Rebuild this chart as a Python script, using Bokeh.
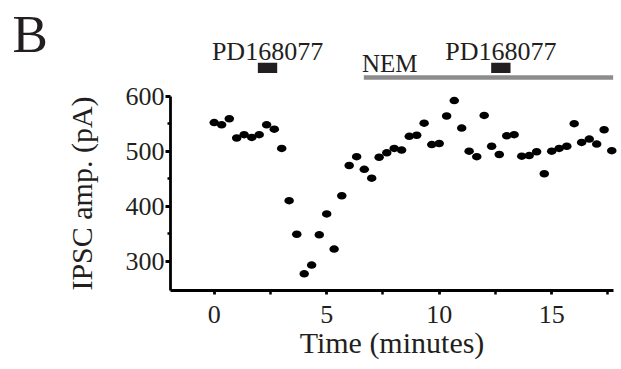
from bokeh.plotting import figure
from bokeh.models import Range1d, FixedTicker, LinearAxis
from bokeh.core.properties import value
from bokeh.embed import file_html
from bokeh.resources import INLINE

# ---- data ----
time_min = [0.0, 0.33, 0.67, 1.0, 1.33, 1.67, 2.0, 2.33, 2.67, 3.0,
            3.33, 3.67, 4.0, 4.33, 4.67, 5.0, 5.33, 5.67, 6.0, 6.33,
            6.67, 7.0, 7.33, 7.67, 8.0, 8.33, 8.67, 9.0, 9.33, 9.67,
            10.0, 10.33, 10.67, 11.0, 11.33, 11.67, 12.0, 12.33, 12.67, 13.0,
            13.33, 13.67, 14.0, 14.33, 14.67, 15.0, 15.33, 15.67, 16.0, 16.33,
            16.67, 17.0, 17.33, 17.67]
ipsc_pA = [552, 548, 559, 524, 530, 525, 530, 548, 540, 505,
           410, 349, 277, 293, 348, 386, 322, 419, 474, 490,
           467, 451, 489, 497, 505, 502, 527, 529, 551, 512,
           514, 564, 592, 542, 500, 490, 565, 509, 494, 528,
           530, 491, 492, 499, 459, 500, 505, 509, 550, 516,
           522, 513, 539, 501]

x_ticks = [0, 5, 10, 15]
x_minor = [2.5, 7.5, 12.5, 17.5]
y_ticks = [300, 400, 500, 600]
y_minor = [350, 450, 550]

drug_names = ["PD168077", "PD168077"]
drug_start = [1.94, 12.31]
drug_end = [2.80, 13.17]
nem_start = [6.65]
nem_end = [17.73]

X_AXIS_AT = 247.6     # y value where the time axis sits
Y_AXIS_AT = -1.94     # x value where the amplitude axis sits
X_END = 17.73
Y_END = 600

FONT = "Liberation Serif"
INK = "#231f20"

p = figure(width=621, height=369,
           x_range=Range1d(-9.498, 18.102), y_range=Range1d(103.1, 774.0),
           x_axis_location=None, y_axis_location=None,
           output_backend="svg", toolbar_location=None,
           min_border=0, min_border_left=0, min_border_right=0,
           min_border_top=0, min_border_bottom=0)
p.outline_line_color = None
p.xgrid.visible = False
p.ygrid.visible = False
p.background_fill_color = "white"
p.border_fill_color = "white"

# points (slightly wide dots as in the reference)
p.ellipse(x=time_min, y=ipsc_pA, width=9.5, height=7.5,
          width_units="screen", height_units="screen",
          fill_color="black", line_color=None)

# drug bars
p.quad(left=drug_start, right=drug_end, bottom=[642, 642], top=[661, 661],
       fill_color=INK, line_color=None)
drug_mid = [(a + b) / 2 for a, b in zip(drug_start, drug_end)]
p.text(x=drug_mid, y=[681, 681], text=drug_names, text_align="center",
       text_baseline="alphabetic", text_font=value(FONT),
       text_font_size="26px", text_color=INK)

# NEM line
p.segment(x0=nem_start, y0=[634], x1=nem_end, y1=[634],
          line_color="#8c8c8c", line_width=4.5)
p.text(x=[nem_start[0] - 0.08], y=[660], text=["NEM"], text_align="left",
       text_baseline="alphabetic", text_font=value(FONT),
       text_font_size="25px", text_color=INK)

# panel letter
p.text(x=[-8.96], y=[713], text=["B"], text_align="left",
       text_baseline="alphabetic", text_font=value(FONT),
       text_font_size="53px", text_color=INK)

# axes placed at fixed locations inside the full-canvas frame
xa = LinearAxis(fixed_location=X_AXIS_AT,
                ticker=FixedTicker(ticks=x_ticks, minor_ticks=x_minor),
                bounds=(Y_AXIS_AT, X_END), axis_label="Time (minutes)")
ya = LinearAxis(fixed_location=Y_AXIS_AT,
                ticker=FixedTicker(ticks=y_ticks, minor_ticks=y_minor),
                bounds=(X_AXIS_AT, Y_END), axis_label="IPSC amp. (pA)")
p.add_layout(xa, "below")
p.add_layout(ya, "left")

for ax in (xa, ya):
    ax.axis_line_width = 2.8
    ax.axis_line_color = "black"
    ax.major_tick_line_width = 2.8
    ax.minor_tick_line_width = 2.5
    ax.major_tick_in = 0
    ax.minor_tick_in = 0
    ax.major_label_text_font = FONT
    ax.major_label_text_font_size = "26px"
    ax.major_label_text_color = INK
    ax.axis_label_text_font = FONT
    ax.axis_label_text_font_size = "30px"
    ax.axis_label_text_font_style = "normal"
    ax.axis_label_text_color = INK

xa.major_tick_out = 4
xa.minor_tick_out = 4
xa.major_label_standoff = 12
xa.axis_label_standoff = -1
ya.major_tick_out = 5
ya.minor_tick_out = 3
ya.major_label_standoff = 1
ya.axis_label_standoff = 25

open("out.html", "w").write(file_html(p, INLINE))
